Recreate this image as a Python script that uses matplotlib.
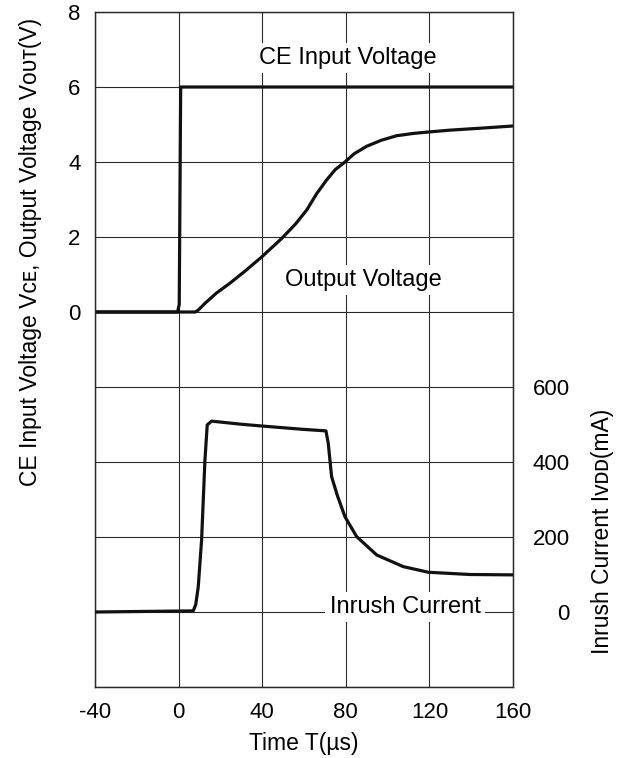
import matplotlib.pyplot as plt
from matplotlib.ticker import FixedLocator, FuncFormatter

plt.rcParams['font.family'] = ['Liberation Sans', 'DejaVu Sans']
plt.rcParams['axes.unicode_minus'] = False

# CE input voltage (V)
ce_t = [-40, -0.5, 0.3, 1.0, 160]
ce_v = [0, 0, 0.2, 6.0, 6.0]

# output voltage (V)
out_t = [-40, 8, 9.4, 12.6, 18, 24.6, 32, 39.8, 49.3, 56, 61.3, 66, 70.8, 75, 79.6, 84, 90, 97, 104.3, 112, 119.5, 130, 144, 160]
out_v = [0, 0, 0.05, 0.23, 0.5, 0.77, 1.1, 1.47, 1.96, 2.35, 2.72, 3.15, 3.52, 3.8, 4.0, 4.22, 4.42, 4.58, 4.7, 4.76, 4.8, 4.85, 4.9, 4.96]

# inrush current (mA)
in_t = [-40, 7.0, 8.2, 9.4, 11.0, 12.6, 13.7, 15.8, 29.4, 39.8, 59.7, 70.5, 71.6, 73.2, 76, 79.6, 85.2, 94.8, 107.5, 119.5, 139.4, 160]
in_i = [0, 3, 20, 67, 192, 405, 499, 509, 501, 496, 487, 483, 450, 361, 310, 254, 201, 152, 121, 106, 100, 99]

xticks = [-40, 0, 40, 80, 120, 160]
vgrid = [-10, -8, -6, -4, -2, 0, 2, 4, 6, 8]
iticks = [0, 200, 400, 600]

fig = plt.figure(figsize=(6.17, 7.58), dpi=100)
ax = fig.add_axes([95/617, 1-687/758, 418/617, 675/758])
ax2 = ax.twinx()

line_kw = dict(color='#111111', lw=2.3, zorder=3, solid_joinstyle='round', solid_capstyle='round')
ax.plot(ce_t, ce_v, **line_kw)
ax.plot(out_t, out_v, **line_kw)
ax2.plot(in_t, in_i, **line_kw)

ax.set_xlim(-40, 160)
ax.set_ylim(-10, 8)
ax2.set_ylim(-200, 1600)

ax.set_xticks(xticks)
ax.yaxis.set_major_locator(FixedLocator(vgrid))
ax.yaxis.set_major_formatter(FuncFormatter(lambda v, p: '%d' % v if v >= 0 else ''))
ax2.set_yticks(iticks)
for lab in ax2.get_yticklabels():
    lab.set_horizontalalignment('right')

ax.grid(True, color='#2a2a2a', lw=0.8)
ax.tick_params(axis='both', length=0, labelsize=16)
ax.tick_params(axis='y', pad=10.5)
ax.tick_params(axis='x', pad=10.5)
ax2.tick_params(axis='y', length=0, labelsize=16, pad=41)
for a in (ax, ax2):
    for s in a.spines.values():
        s.set_color('#2a2a2a')
        s.set_linewidth(0.9)

ax.set_xlabel('Time T(\u00b5s)', fontsize=16.5, labelpad=7)
ax.set_ylabel('CE Input Voltage V\u1d04\u1d07, Output Voltage V\u1d0f\u1d1c\u1d1b(V)', fontsize=16.5)
ax.yaxis.set_label_coords(-0.1555, 0.644)
ax2.set_ylabel('Inrush Current I\u1d20\u1d05\u1d05(mA)', fontsize=16.5)
ax2.yaxis.set_label_coords(1.213, 0.23)
ax.yaxis.label.set_va('center')
ax2.yaxis.label.set_va('center')

box = dict(facecolor='white', edgecolor='none', pad=3)
ax.text(81, 6.78, 'CE Input Voltage', fontsize=17, ha='center', va='center', bbox=box, zorder=2)
ax.text(88.4, 0.85, 'Output Voltage', fontsize=17, ha='center', va='center', bbox=box, zorder=2)
ax.text(108.3, -7.87, 'Inrush Current', fontsize=17, ha='center', va='center', bbox=box, zorder=2)

fig.savefig('out.png', dpi=100)
